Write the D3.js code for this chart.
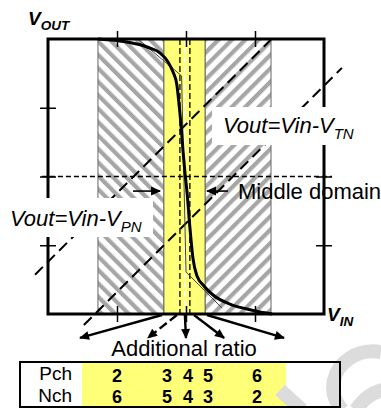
<!DOCTYPE html>
<html>
<head>
<meta charset="utf-8">
<script src="https://cdn.jsdelivr.net/npm/d3@7/dist/d3.min.js"></script>
<style>
  body { margin: 0; background: #fff; }
  svg { display: block; font-family: "Liberation Sans", Arial, sans-serif; }
</style>
</head>
<body>
<div id="chart"></div>
<script>
// Set the dimensions of the picture and of the transfer plot
var width = 381,
    height = 408;

// Inverter transfer curve, Vin and Vout as fraction of VDD
var curveVin  = [0.181, 0.286, 0.359, 0.406, 0.435, 0.453, 0.467, 0.475, 0.482, 0.489, 0.496,
                 0.504, 0.514, 0.525, 0.540, 0.565, 0.598, 0.659, 0.721, 0.768, 0.812];
var curveVout = [1.000, 0.989, 0.971, 0.949, 0.916, 0.880, 0.833, 0.760, 0.687, 0.596, 0.516,
                 0.440, 0.316, 0.204, 0.138, 0.102, 0.069, 0.036, 0.018, 0.007, 0.000];

// Thin approximation line of the sharper curve
var approxVin  = [0.326, 0.484, 0.500, 0.630];
var approxVout = [1.000, 0.866, 0.153, 0.022];

// Threshold lines Vout = Vin - V
var vpn = -0.19, vtn = 0.17;

// Domains (hatched) and additional-ratio band (yellow)
var hatchLeft  = [0.181, 0.420];
var hatchRight = [0.569, 0.808];
var ratioBand  = [0.420, 0.569];
var bandLines  = [0.478, 0.496, 0.514];

// Axis ticks
var tickValues = [0.25, 0.5, 0.75];

// Arrows below the plot (start on Vout = 0, end below it)
var fanStart = [0.413, 0.467, 0.496, 0.529, 0.576];
var fanEnd   = [0.116, 0.362, 0.500, 0.638, 0.855];
var fanDepth = -0.087;

// Table of additional ratios
var ratioPos = [0.250, 0.431, 0.507, 0.580, 0.757];
var pch = [2, 3, 4, 5, 6];
var nch = [6, 5, 4, 3, 2];

var svg = d3.select("#chart")
    .append("svg")
    .attr("width", width)
    .attr("height", height);

var x = d3.scaleLinear().domain([0, 1]).range([48, 324]);
var y = d3.scaleLinear().domain([0, 1]).range([314, 39]);

// Hatch patterns
var defs = svg.append("defs");
[["hatchL", -45], ["hatchR", 45]].forEach(function(p) {
    var pat = defs.append("pattern")
        .attr("id", p[0])
        .attr("patternUnits", "userSpaceOnUse")
        .attr("width", 9.5)
        .attr("height", 9.5)
        .attr("patternTransform", "rotate(" + p[1] + ")");
    pat.append("rect").attr("width", 9.5).attr("height", 9.5).attr("fill", "#fff");
    pat.append("rect").attr("x", 0).attr("width", 4.2).attr("height", 9.5).attr("fill", "#a6a6a6");
});
defs.append("marker")
    .attr("id", "head")
    .attr("viewBox", "0 -5 10 10")
    .attr("refX", 9)
    .attr("refY", 0)
    .attr("markerUnits", "userSpaceOnUse")
    .attr("markerWidth", 11)
    .attr("markerHeight", 10)
    .attr("orient", "auto")
    .append("path")
    .attr("d", "M0,-4.5L10,0L0,4.5Z")
    .attr("fill", "#000");

// Hatched domains and yellow band
[[hatchLeft, "url(#hatchL)"], [hatchRight, "url(#hatchR)"]].forEach(function(h) {
    svg.append("rect")
        .attr("x", x(h[0][0]))
        .attr("y", y(1))
        .attr("width", x(h[0][1]) - x(h[0][0]))
        .attr("height", y(0) - y(1))
        .attr("fill", h[1])
        .attr("stroke", "#666")
        .attr("stroke-width", 1);
});
svg.append("rect")
    .attr("x", x(ratioBand[0]))
    .attr("y", y(1))
    .attr("width", x(ratioBand[1]) - x(ratioBand[0]))
    .attr("height", y(0) - y(1))
    .attr("fill", "#ffff78")
    .attr("stroke", "#666")
    .attr("stroke-width", 1);

// Dashed lines inside the band
svg.selectAll(".band-line")
    .data(bandLines)
    .enter()
    .append("line")
    .attr("x1", d => x(d))
    .attr("x2", d => x(d))
    .attr("y1", y(1))
    .attr("y2", y(0))
    .attr("stroke", (d, i) => i == 1 ? "#fdfdf0" : "#000")
    .attr("stroke-width", (d, i) => i == 1 ? 1.6 : 1.3)
    .attr("stroke-dasharray", "6,3");

// Middle horizontal dashed line
svg.append("line")
    .attr("x1", x(-0.022))
    .attr("x2", x(1.029))
    .attr("y1", y(0.5))
    .attr("y2", y(0.5))
    .attr("stroke", "#000")
    .attr("stroke-width", 1.3)
    .attr("stroke-dasharray", "5,3");

// Threshold lines
var thresholds = [
    { v: vpn, from: -0.047, to: 1 + vpn },
    { v: vtn, from: 0.13, to: 1.065 }
];
svg.selectAll(".thr")
    .data(thresholds)
    .enter()
    .append("line")
    .attr("x1", d => x(d.from))
    .attr("y1", d => y(d.from - d.v))
    .attr("x2", d => x(d.to))
    .attr("y2", d => y(d.to - d.v))
    .attr("stroke", "#000")
    .attr("stroke-width", 2)
    .attr("stroke-dasharray", "11,6");

// Transfer curves
var line = d3.line()
    .x(d => x(d[0]))
    .y(d => y(d[1]));

svg.append("path")
    .datum(approxVin.map((v, i) => [v, approxVout[i]]))
    .attr("d", line)
    .attr("fill", "none")
    .attr("stroke", "#444")
    .attr("stroke-width", 1);

svg.append("path")
    .datum(curveVin.map((v, i) => [v, curveVout[i]]))
    .attr("d", line.curve(d3.curveMonotoneX))
    .attr("fill", "none")
    .attr("stroke", "#000")
    .attr("stroke-width", 3);

// Frame
svg.append("rect")
    .attr("x", x(0))
    .attr("y", y(1))
    .attr("width", x(1) - x(0))
    .attr("height", y(0) - y(1))
    .attr("fill", "none")
    .attr("stroke", "#000")
    .attr("stroke-width", 3);

// Ticks crossing the frame
var tick = 8;
[y(1), y(0)].forEach(function(py) {
    svg.append("g")
        .attr("transform", "translate(0," + (py - tick) + ")")
        .call(d3.axisBottom(x).tickValues(tickValues).tickSize(tick * 2).tickFormat(""))
        .call(g => g.select(".domain").remove())
        .selectAll("line").attr("stroke-width", 1.5);
});
[x(0), x(1)].forEach(function(px) {
    svg.append("g")
        .attr("transform", "translate(" + (px - tick) + ",0)")
        .call(d3.axisRight(y).tickValues(tickValues).tickSize(tick * 2).tickFormat(""))
        .call(g => g.select(".domain").remove())
        .selectAll("line").attr("stroke-width", 1.5);
});

// Middle domain arrows
[[0.308, 0.406], [0.652, 0.576]].forEach(function(a) {
    svg.append("line")
        .attr("x1", x(a[0]))
        .attr("x2", x(a[1]))
        .attr("y1", y(0.447))
        .attr("y2", y(0.447))
        .attr("stroke", "#000")
        .attr("stroke-width", 1.6)
        .attr("marker-end", "url(#head)");
});

// Fan of arrows below the plot
svg.selectAll(".fan")
    .data(fanStart)
    .enter()
    .append("line")
    .attr("x1", d => x(d))
    .attr("y1", y(0) + 1)
    .attr("x2", (d, i) => x(fanEnd[i]))
    .attr("y2", y(fanDepth))
    .attr("stroke", "#000")
    .attr("stroke-width", 2.4)
    .attr("stroke-dasharray", (d, i) => i == 1 ? "9,4" : null)
    .attr("marker-end", "url(#head)");

// Threshold labels on white boxes
function label(bx, by, bw, bh, tx, ty, main, sub) {
    svg.append("rect")
        .attr("x", bx).attr("y", by)
        .attr("width", bw).attr("height", bh)
        .attr("fill", "#fff");
    var t = svg.append("text")
        .attr("x", tx)
        .attr("y", ty)
        .style("font-style", "italic")
        .style("font-size", "22px");
    t.append("tspan").text(main);
    t.append("tspan").attr("dy", 6).style("font-size", "15px").text(sub);
}
label(212, 107, 148, 38, 223, 133, "Vout=Vin-V", "TN");
label(0, 198, 153, 39, 10, 226, "Vout=Vin-V", "PN");

svg.append("text")
    .attr("x", 238)
    .attr("y", 199)
    .style("font-size", "22px")
    .text("Middle domain");

svg.append("text")
    .attr("x", 184)
    .attr("y", 356)
    .attr("text-anchor", "middle")
    .style("font-size", "22px")
    .text("Additional ratio");

// Axis titles
function axisTitle(tx, ty, sub) {
    var t = svg.append("text")
        .attr("x", tx)
        .attr("y", ty)
        .style("font-style", "italic")
        .style("font-weight", "bold")
        .style("font-size", "19px");
    t.append("tspan").text("V");
    t.append("tspan").attr("dy", 5).style("font-size", "13.5px").text(sub);
}
axisTitle(28, 25, "OUT");
axisTitle(327, 321, "IN");

// Ratio table
svg.append("rect")
    .attr("x", 20).attr("y", 362)
    .attr("width", 320).attr("height", 45)
    .attr("fill", "#fff");
svg.append("rect")
    .attr("x", 82).attr("y", 362)
    .attr("width", 204).attr("height", 45)
    .attr("fill", "#ffff78");

// Faint watermark in the corner
svg.append("path")
    .attr("d", "M381,352 C358,348 338,362 334,380 C331,394 336,402 342,410")
    .attr("fill", "none")
    .attr("stroke", "#dcdcdc")
    .attr("stroke-width", 14);
svg.append("path")
    .attr("d", "M280,390 L302,410 M356,410 C364,398 374,392 383,390")
    .attr("fill", "none")
    .attr("stroke", "#dcdcdc")
    .attr("stroke-width", 14);

svg.append("rect")
    .attr("x", 20).attr("y", 362)
    .attr("width", 320).attr("height", 45)
    .attr("fill", "none")
    .attr("stroke", "#000")
    .attr("stroke-width", 2);

[["Pch", 380, pch, 382], ["Nch", 402, nch, 403]].forEach(function(r) {
    svg.append("text")
        .attr("x", 72)
        .attr("y", r[1])
        .attr("text-anchor", "end")
        .style("font-size", "19px")
        .text(r[0]);
    svg.append("g")
        .selectAll("text")
        .data(r[2])
        .enter()
        .append("text")
        .attr("x", (d, i) => x(ratioPos[i]))
        .attr("y", r[3])
        .attr("text-anchor", "middle")
        .style("font-size", "18px")
        .style("font-weight", "bold")
        .text(d => d);
});
</script>
</body>
</html>
